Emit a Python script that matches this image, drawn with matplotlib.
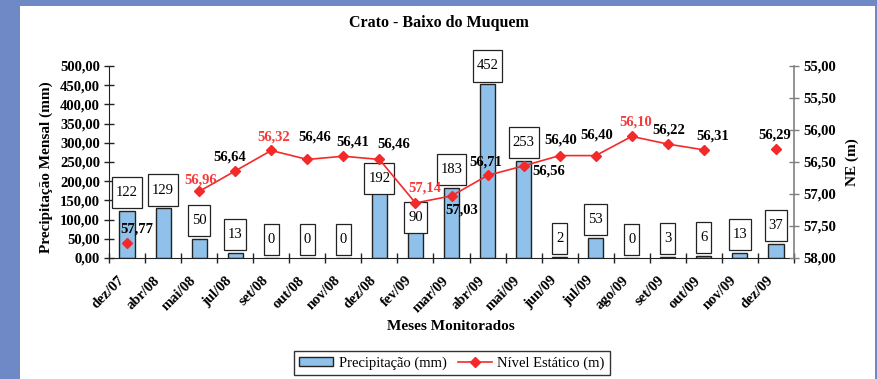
import numpy as np
import matplotlib
matplotlib.use("Agg")
import matplotlib.pyplot as plt
from matplotlib.path import Path
from matplotlib.patches import Rectangle
from matplotlib.ticker import FuncFormatter, FixedLocator

plt.rcParams['font.family'] = ['Liberation Serif', 'DejaVu Serif']

# ---- data ----
months = ["dez/07", "abr/08", "mai/08", "jul/08", "set/08", "out/08", "nov/08",
          "dez/08", "fev/09", "mar/09", "abr/09", "mai/09", "jun/09", "jul/09",
          "ago/09", "set/09", "out/09", "nov/09", "dez/09"]
precip = [122, 129, 50, 13, 0, 0, 0, 192, 90, 183, 452, 253, 2, 53, 0, 3, 6, 13, 37]
nivel = [57.77, np.nan, 56.96, 56.64, 56.32, 56.46, 56.41, 56.46, 57.14, 57.03,
         56.71, 56.56, 56.40, 56.40, 56.10, 56.22, 56.31, np.nan, 56.29]
nivel_labels = ["57,77", "", "56,96", "56,64", "56,32", "56,46", "56,41", "56,46",
                "57,14", "57,03", "56,71", "56,56", "56,40", "56,40", "56,10",
                "56,22", "56,31", "", "56,29"]
highlight = [False, False, True, False, True, False, False, False, True, False,
             False, False, False, False, True, False, False, False, False]

# label placement (offset points) for the level labels
lvl_off = [(7, 10), (0, 0), (1, 8), (-4, 10), (2, 10), (5, 16), (7, 10), (10, 11),
           (7, 11), (7, -10), (-1, 10), (18, -4), (1, 11), (1, 15), (3, 10),
           (1, 10), (6, 10), (0, 0), (-1, 10)]
# vertical offset (points) of the precipitation value boxes
box_dy = [8.6] * len(precip)
box_dy[7] = -0.2
box_dy[8] = -0.4

BAR_COLOR = "#8fc1ea"
LINE_COLOR = "#f42a2a"
RED_TXT = "#f43a3a"

fig = plt.figure(figsize=(8.78, 3.79), dpi=100)
fig.patch.set_facecolor("white")
# blue frame around the white panel
fig.patches.append(Rectangle((0, 0), 1, 1, transform=fig.transFigure,
                             facecolor="#6f89c6", edgecolor="none", zorder=-10))
fig.patches.append(Rectangle((20 / 878, 0), (875 - 20) / 878, 1 - 6 / 379,
                             transform=fig.transFigure, facecolor="white",
                             edgecolor="none", zorder=-9))

ax = fig.add_axes([109 / 878, 1 - 258 / 379, (794 - 109) / 878, (258 - 66) / 379])
ax.patch.set_alpha(0)
x = np.arange(len(months))

ax.bar(x, precip, width=0.42, color=BAR_COLOR, edgecolor="#222222", linewidth=1.0,
       zorder=2)
ax.set_xlim(-0.5, len(months) - 0.5)
ax.set_ylim(0, 500)
ax.set_yticks(np.arange(0, 501, 50))
ax.yaxis.set_major_formatter(FuncFormatter(lambda v, p: f"{v:.2f}".replace(".", ",")))

# month labels, rotated 45 degrees and ending just left of each category centre
ax.set_xticks(x)
ax.set_xticklabels([])
ax.tick_params(axis="x", which="major", length=0)
for i, m in enumerate(months):
    ax.annotate(m, xy=(i, 0), xycoords=("data", "axes fraction"),
                xytext=(-7, -11.5), textcoords="offset points", rotation=45,
                ha="right", va="top", rotation_mode="anchor",
                fontsize=10.5, fontweight="bold", annotation_clip=False)

ax.xaxis.set_minor_locator(FixedLocator(np.arange(-0.5, len(months), 1.0)))
ax.tick_params(axis="x", which="minor", direction="inout", length=7, width=1, color="#222222")
ax.tick_params(axis="y", direction="inout", length=7, width=1, color="#222222",
               labelsize=10.5, pad=3)
for lbl in ax.get_yticklabels():
    lbl.set_fontweight("bold")

for s in ["top", "right"]:
    ax.spines[s].set_visible(False)
ax.spines["left"].set_color("#222222")
ax.spines["bottom"].set_color("#222222")


def tall_box(x0, y0, width, height, mutation_size):
    px = 0.27 * mutation_size
    py = 0.62 * mutation_size
    x0, y0 = x0 - px, y0 - py
    x1, y1 = x0 + width + 2 * px, y0 + height + 2 * py
    return Path([(x0, y0), (x1, y0), (x1, y1), (x0, y1), (x0, y0)], closed=True)


for i, v in enumerate(precip):
    ax.annotate(str(v), xy=(i, v), xytext=(0, box_dy[i]), textcoords="offset points",
                ha="center", va="bottom", fontsize=10.5, zorder=5,
                bbox=dict(boxstyle=tall_box, facecolor="white", edgecolor="#222222",
                          linewidth=0.9))

ax2 = ax.twinx()
ax2.plot(x, nivel, color=LINE_COLOR, linewidth=1.2, marker="D", markersize=5.5,
         markerfacecolor=LINE_COLOR, markeredgecolor=LINE_COLOR, zorder=4)
ax2.set_ylim(58, 55)
ax2.set_yticks(np.arange(55, 58.01, 0.5))
ax2.yaxis.set_major_formatter(FuncFormatter(lambda v, p: f"{v:.2f}".replace(".", ",")))
ax2.tick_params(axis="y", direction="inout", length=7, width=1, color="#808080",
                labelsize=10.5, pad=3)
for lbl in ax2.get_yticklabels():
    lbl.set_fontweight("bold")
for s in ["top", "left", "bottom"]:
    ax2.spines[s].set_visible(False)
ax2.spines["right"].set_color("#808080")
ax2.spines["right"].set_linewidth(1.2)

for i, (v, t) in enumerate(zip(nivel, nivel_labels)):
    if not t:
        continue
    ax2.annotate(t, xy=(i, v), xytext=lvl_off[i], textcoords="offset points",
                 ha="center", va="center", fontsize=10.5, fontweight="bold",
                 color=RED_TXT if highlight[i] else "black", zorder=6)

fig.text(0.5, 1 - 23 / 379, "Crato - Baixo do Muquem", ha="center",
         va="center", fontsize=11.5, fontweight="bold")
fig.text(46 / 878, 1 - 167 / 379, "Precipitação Mensal (mm)", rotation=90,
         ha="center", va="center", fontsize=11, fontweight="bold")
fig.text(852 / 878, 1 - 162 / 379, "NE (m)", rotation=90,
         ha="center", va="center", fontsize=11, fontweight="bold")
fig.text(451 / 878, 1 - 326 / 379, "Meses Monitorados", ha="center", va="center",
         fontsize=11, fontweight="bold")

bar_handle = Rectangle((0, 0), 1, 1, facecolor=BAR_COLOR, edgecolor="#222222", linewidth=1.0)
line_handle = plt.Line2D([], [], color=LINE_COLOR, linewidth=1.2, marker="D",
                         markersize=5.5, markerfacecolor=LINE_COLOR, markeredgecolor=LINE_COLOR)
leg = fig.legend([bar_handle, line_handle], ["Precipitação (mm)", "Nível Estático (m)"],
                 loc="upper center", bbox_to_anchor=(452 / 878, 1 - 351 / 379),
                 ncol=2, fontsize=10.5, frameon=True, fancybox=False, handlelength=2.3,
                 handleheight=0.55, columnspacing=0.8, handletextpad=0.4,
                 borderpad=0.35, borderaxespad=0)
leg.get_frame().set_edgecolor("black")
leg.get_frame().set_linewidth(1.0)

fig.savefig("out.png", dpi=100, facecolor=fig.get_facecolor())
